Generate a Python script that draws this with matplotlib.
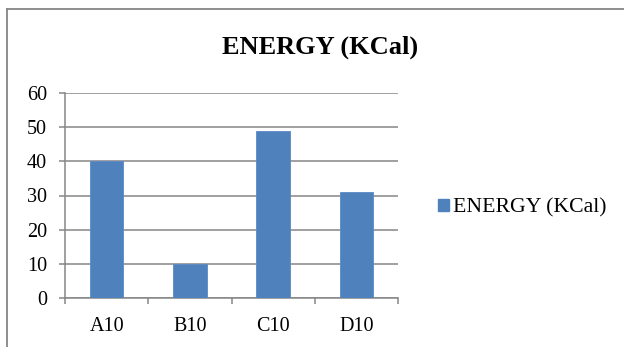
import matplotlib
matplotlib.use('Agg')
import matplotlib.pyplot as plt
from matplotlib.lines import Line2D
from matplotlib.patches import Patch
import numpy as np

categories = ['A10', 'B10', 'C10', 'D10']
energy = [40, 10, 49, 31]
series_name = 'ENERGY (KCal)'
yticks = [0, 10, 20, 30, 40, 50, 60]

plt.rcParams['font.family'] = ['Liberation Serif', 'DejaVu Serif']

W, H = 624, 347
fig = plt.figure(figsize=(W / 100, H / 100), dpi=100)
fig.patch.set_facecolor('white')

grey = '#868686'
blue = '#4F81BD'

# chart frame (left and top edges)
fig.add_artist(Line2D([7 / W, 7 / W], [0, 1 - 9 / H], color=grey, lw=1.3))
fig.add_artist(Line2D([7 / W, 1], [1 - 9 / H, 1 - 9 / H], color=grey, lw=1.3))

ax = fig.add_axes([65 / W, (H - 298) / H, (398 - 65) / W, (298 - 93) / H])
x = np.arange(len(categories))
ax.bar(x, energy, width=0.4, color=blue, edgecolor='#5B8AC6', linewidth=0.6,
       label=series_name, zorder=3)

ax.set_xlim(-0.5, len(categories) - 0.5)
ax.set_ylim(0, 60)
ax.set_yticks(yticks)
ax.set_yticklabels([str(v) for v in yticks], fontsize=14.5)
ax.yaxis.grid(True, color=grey, lw=1.1, zorder=0)
ax.set_axisbelow(True)

ax.set_xticks(x)
ax.set_xticklabels(categories, fontsize=14.5)
ax.set_xticks(np.arange(len(categories) + 1) - 0.5, minor=True)
ax.tick_params(axis='x', which='major', length=0, pad=14)
ax.tick_params(axis='x', which='minor', length=4, width=1.1, color=grey, direction='out')
ax.tick_params(axis='y', length=4, width=1.1, color=grey, direction='out', pad=9)

for s in ['top', 'right']:
    ax.spines[s].set_visible(False)
for s in ['left', 'bottom']:
    ax.spines[s].set_color(grey)
    ax.spines[s].set_linewidth(1.1)

fig.text(320 / W, 1 - 47 / H, series_name, ha='center', va='center',
         fontsize=19, fontweight='bold')

handle = Patch(facecolor=blue, edgecolor=blue)
fig.legend([handle], [series_name], loc='center left',
           bbox_to_anchor=(438 / W, 1 - 208 / H), frameon=False, fontsize=15.7,
           handlelength=0.5, handleheight=0.5, handletextpad=0.2, borderpad=0,
           borderaxespad=0)

fig.savefig('out.png', dpi=100)
